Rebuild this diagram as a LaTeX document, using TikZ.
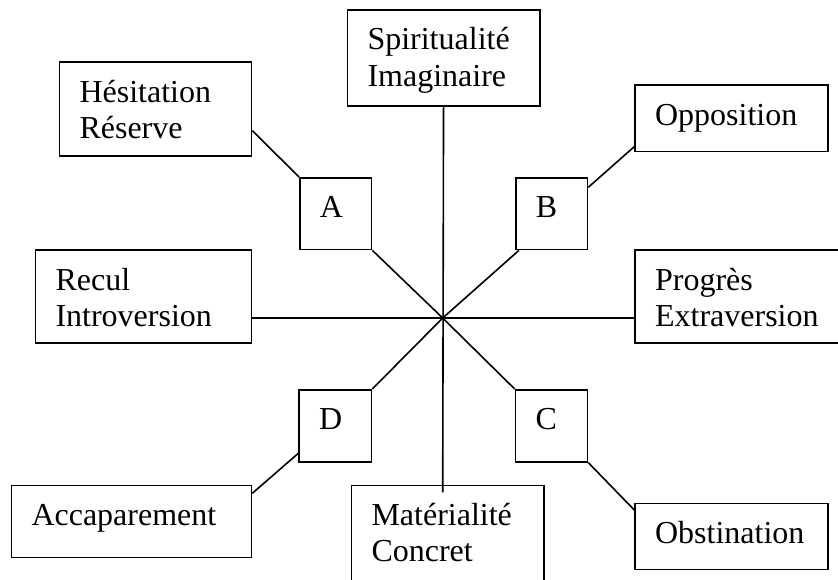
\documentclass[tikz,border=0pt]{standalone}
\usepackage{fontspec}
\setmainfont{Liberation Serif}
\newcommand{\boxtxt}[3]{\parbox[t][#2][t]{#1}{\rule{0pt}{20pt}#3}}
\tikzset{cell/.style={rectangle,draw,inner xsep=10pt,inner ysep=0pt,anchor=north west,
  font=\fontsize{16}{18.15}\selectfont}}

\begin{document}
\begin{tikzpicture}[x=1pt,y=-1pt,line width=0.8pt]
  \useasboundingbox (0,0) rectangle (419,289.5);
  % outer boxes
  \node[cell] (hes) at (29.35,30.65) {\boxtxt{76pt}{46.85pt}{Hésitation\\Réserve}};
  \node[cell] (spi) at (173.35,4.5) {\boxtxt{76.15pt}{48.15pt}{Spiritualité\\Imaginaire}};
  \node[cell] (opp) at (317.15,42.15) {\boxtxt{76.5pt}{33.2pt}{Opposition}};
  \node[cell] (rec) at (17.35,124.65) {\boxtxt{88pt}{46.5pt}{Recul\\Introversion}};
  \node[cell] (pro) at (317.15,124.65) {\boxtxt{88pt}{46.5pt}{Progrès\\Extraversion}};
  \node[cell] (acc) at (5.35,242.35) {\boxtxt{100pt}{36pt}{Accaparement}};
  \node[cell] (mat) at (175.35,242.35) {\boxtxt{76.3pt}{55pt}{Matérialité\\Concret}};
  \node[cell] (obs) at (317.15,251.35) {\boxtxt{76.5pt}{33pt}{Obstination}};
  % letter boxes
  \node[cell] (A) at (149.5,88.5) {\boxtxt{15.85pt}{35.85pt}{A}};
  \node[cell] (B) at (257.5,88.5) {\boxtxt{15.85pt}{35.85pt}{B}};
  \node[cell] (C) at (257.35,194.5) {\boxtxt{16pt}{36pt}{C}};
  \node[cell] (D) at (149.15,194.5) {\boxtxt{16.2pt}{36pt}{D}};
  \coordinate (ctr) at (221.35,159);
  \coordinate (vbot) at (221.35,246.15);
  % axes
  \draw (spi) -- (vbot);
  \draw (rec.east |- ctr) -- (pro.west |- ctr);
  \draw (ctr) -- (A.south east);
  \draw (ctr) -- ([xshift=2pt]B.south west);
  \draw (ctr) -- (C.north west);
  \draw (ctr) -- (D.north east);
  % outer links
  \draw (A.north west) -- ([yshift=13pt]hes.south east);
  \draw ([yshift=-5.15pt]B.north east) -- ([yshift=2.85pt]opp.south west);
  \draw (C.south east) -- ([yshift=-3.65pt]obs.north west);
  \draw ([yshift=4.65pt]D.south west) -- ([yshift=-4.3pt]acc.north east);
\end{tikzpicture}
\end{document}
